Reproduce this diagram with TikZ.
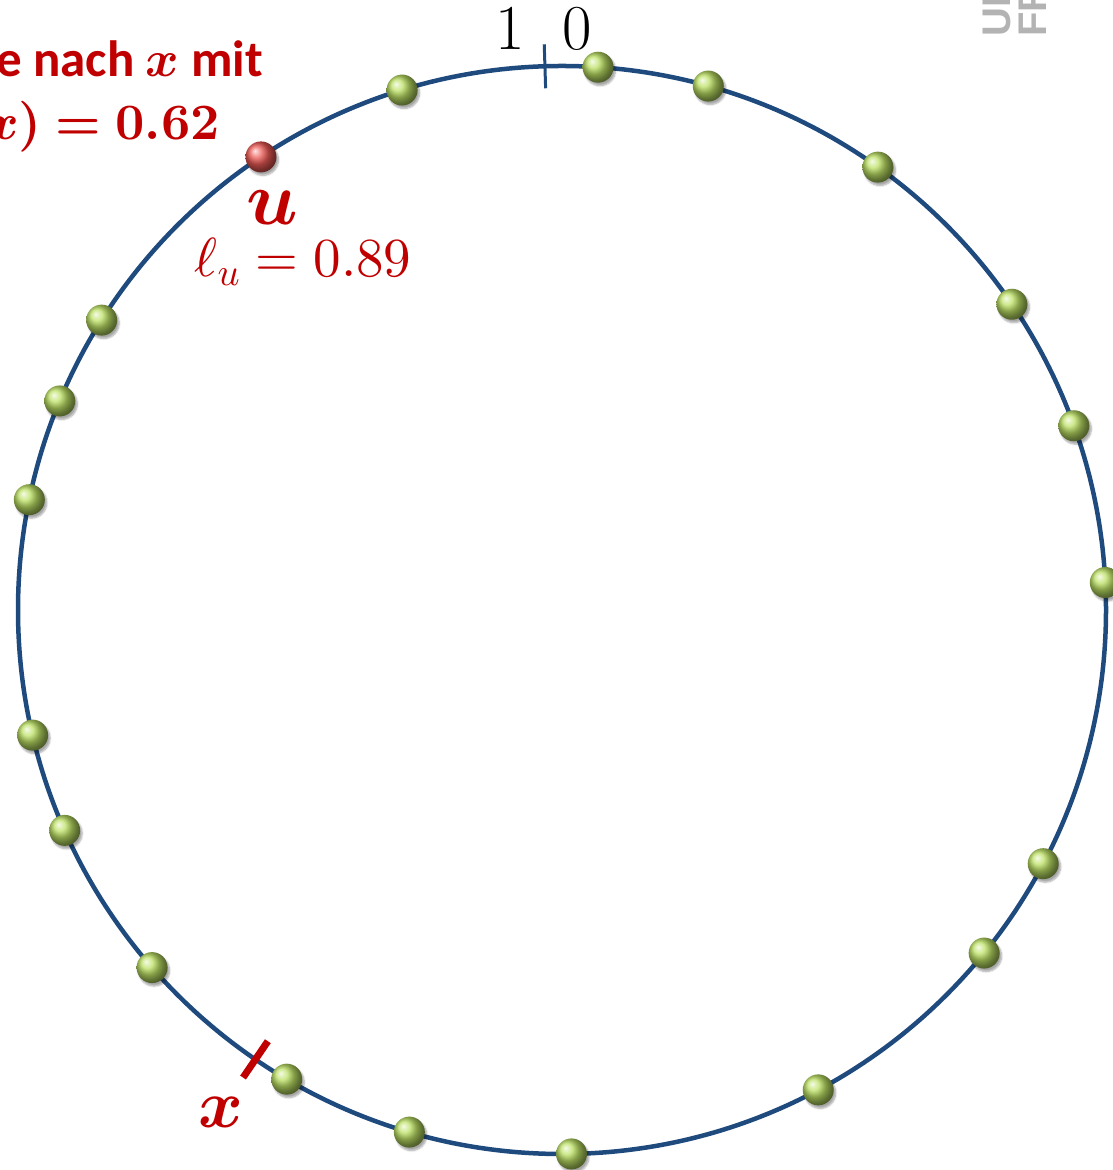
\documentclass[tikz,border=0pt]{standalone}
\usepackage{amsmath}
\usepackage{bm}
\usepackage{fontspec}
\usetikzlibrary{calc,shadows.blur}
\DeclareFontShape{OML}{cmm}{m}{it}{<->cmmi10}{}
\DeclareFontShape{OML}{cmm}{b}{it}{<->cmmib10}{}
\DeclareFontShape{OT1}{cmr}{m}{n}{<->cmr10}{}
\DeclareFontShape{OT1}{cmr}{bx}{n}{<->cmbx10}{}
\DeclareFontShape{OMS}{cmsy}{m}{n}{<->cmsy10}{}
\DeclareFontShape{OMS}{cmsy}{b}{n}{<->cmbsy10}{}
\newfontfamily\slidefont{Carlito}
\newfontfamily\logofont{Liberation Sans}
\definecolor{RingBlue}{HTML}{1F4A7E}
\definecolor{KnotGreen}{HTML}{BCE064}
\definecolor{KnotRed}{HTML}{EC5A55}
\definecolor{SlideRed}{HTML}{C00000}
\definecolor{LogoGray}{HTML}{B3B3B3}

\begin{document}
\begin{tikzpicture}[x=1pt,y=1pt]
  \tikzstyle{knot}=[circle,inner sep=0pt,minimum size=31pt,
    blur shadow={shadow xshift=2pt,shadow yshift=-3pt,
      shadow blur steps=6,shadow opacity=35}]
  \tikzstyle{lbl}=[inner sep=0pt,anchor=base]
  \useasboundingbox (0,0) rectangle (1113,1170);
  \coordinate (m) at (562,560);
  \draw[RingBlue,line width=4.5pt] (m) circle (544);
  % Marke zwischen 1 und 0
  \coordinate (t0) at ($(m)+(91.8:522)$);
  \coordinate (t1) at ($(m)+(91.8:566)$);
  \draw[RingBlue,line width=3pt] (t0)--(t1);
  \node[lbl,font=\fontsize{64}{64}\selectfont] (eins) at (510,1120) {1};
  \node[lbl,font=\fontsize{64}{64}\selectfont] (null) at (577,1120) {0};
  % Position x
  \coordinate (p0) at ($(m)+(-124.3:522)$);
  \coordinate (p1) at ($(m)+(-124.3:566)$);
  \draw[SlideRed,line width=7pt] (p0)--(p1);
  \node[lbl,text=SlideRed,font=\fontsize{68}{68}\selectfont] (xlab) at (221,42) {$\bm{x}$};
  % Knoten auf dem Ring
  \foreach \a [count=\i] in {86.2,74.4,54.5,34.2,19.8,2.9,-27.8,-39.1,-61.9,-89.0,
      -106.3,-120.4,-138.9,-156.1,-166.7,168.3,157.4,147.8,107.1}
    \node[knot,ball color=KnotGreen] (k\i) at ($(m)+(\a:544)$) {};
  \node[knot,ball color=KnotRed] (u) at ($(m)+(123.6:544)$) {};
  \node[lbl,text=SlideRed,font=\fontsize{76}{76}\selectfont] (ulab) at (272,945) {$\bm{u}$};
  \node[lbl,text=SlideRed,font=\fontsize{55}{55}\selectfont] (ell) at (303,893) {$\ell_u = 0.89$};
  % Text oben links (abgeschnitten)
  \node[lbl,anchor=base east,text=SlideRed,font=\slidefont\bfseries\fontsize{51}{51}\selectfont]
    (suche) at (263,1093) {Suche nach $\bm{x}$ mit};
  \node[lbl,anchor=base east,text=SlideRed,font=\fontsize{51}{51}\selectfont]
    (ziel) at (220,1030) {$\bm{\ell(x) = 0.62}$};
  % Logo
  \node[lbl,anchor=base west,rotate=90,text=LogoGray,font=\logofont\bfseries\fontsize{40}{40}\selectfont]
    (uni) at (1010,1133) {UNI};
  \node[lbl,anchor=base west,rotate=90,text=LogoGray,font=\logofont\bfseries\fontsize{40}{40}\selectfont]
    (frei) at (1046,1133) {FREIBURG};
\end{tikzpicture}
\end{document}
